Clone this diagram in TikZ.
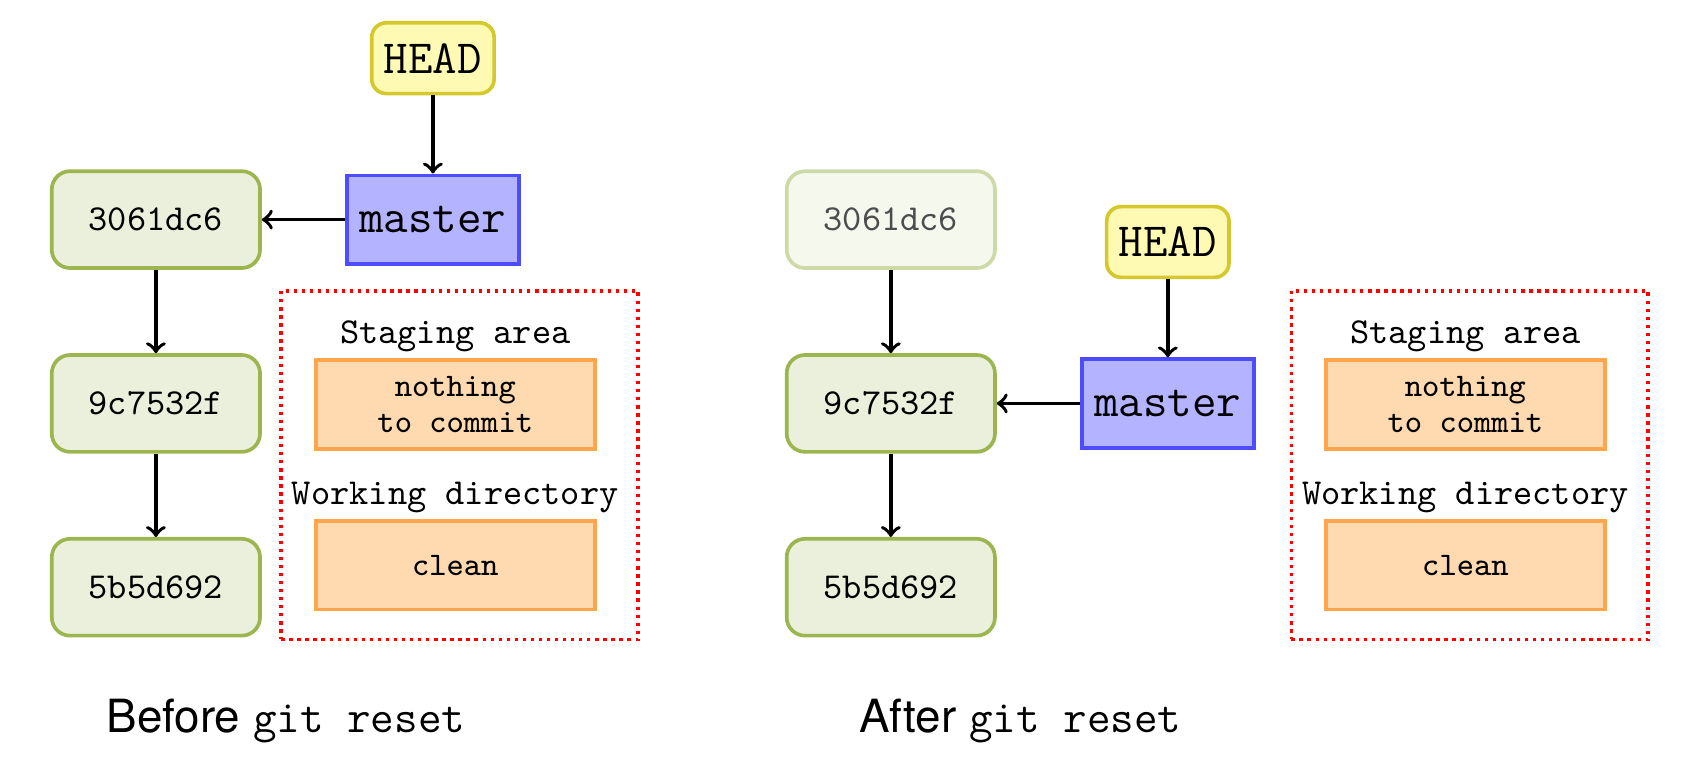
\documentclass[tikz,border=0pt]{standalone}
\usepackage{fontspec}
\setsansfont{TeX Gyre Heros}
\usetikzlibrary{positioning, fit}

\definecolor{commitfill}{HTML}{EBF0DC}
\definecolor{commitline}{HTML}{9CB54F}
\definecolor{headfill}{HTML}{FFFAB3}
\definecolor{headline}{HTML}{D4C82C}
\definecolor{branchfill}{HTML}{B3B3FF}
\definecolor{branchline}{HTML}{4D4DFF}
\definecolor{stagefill}{HTML}{FFD9B0}
\definecolor{stageline}{HTML}{FFA64D}

\newcommand{\reffont}{\fontsize{13pt}{15pt}\selectfont\ttfamily}

\tikzstyle{commit} = [rectangle, draw=commitline, fill=commitfill, line width=1pt, rounded corners=5pt, minimum width=2cm, minimum height=0.93cm, font=\ttfamily]
\tikzstyle{oldcommit} = [commit, draw=commitline!50, fill=commitfill!50, text=black!70]
\tikzstyle{branchbox} = [rectangle, draw=branchline, fill=branchfill, line width=1pt, minimum width=1.65cm, minimum height=0.85cm, font=\reffont]
\tikzstyle{headbox} = [rectangle, draw=headline, fill=headfill, line width=1pt, rounded corners=4pt, minimum height=0.68cm, font=\reffont]
\tikzstyle{stagebox} = [rectangle, draw=stageline, fill=stagefill, line width=1pt, minimum width=2.68cm, minimum height=0.85cm, font=\small\ttfamily, align=center]
\tikzstyle{arealabel} = [font=\ttfamily]
\tikzstyle{areabox} = [draw=red, line width=1pt, dash pattern=on 0.9pt off 1.3pt, inner xsep=0.6pt, inner ysep=6.2pt, xshift=1.2pt, yshift=-1.5pt]
\tikzstyle{arrow} = [line width=1pt, ->, >=to]
\tikzstyle{gitcaption} = [font=\fontsize{12.5pt}{15pt}\selectfont\sffamily]

\begin{document}
\begin{tikzpicture}[node distance=0.8cm]

  \useasboundingbox (0,0) rectangle (463.4pt,-212.6pt);

  % Before: commits and refs
  \node (bc1) [commit] at (42.6pt,-60pt) {3061dc6};
  \node (bc2) [commit, below=of bc1] {9c7532f};
  \node (bc3) [commit, below=of bc2] {5b5d692};
  \node (bmaster) [branchbox, right=of bc1] {master};
  \node (bhead) [headbox, above=0.75cm of bmaster] {HEAD};

  % Before: index and working tree
  \node (bstage) [stagebox] at (124.4pt,-110.5pt) {nothing\\[-1.3pt]to commit};
  \node (bstagelbl) [arealabel, above=-1.8pt of bstage] {Staging area};
  \node (bwork) [stagebox] at (124.4pt,-154.4pt) {clean};
  \node (bworklbl) [arealabel, above=-1.8pt of bwork] {Working directory};
  \node (barea) [areabox, fit=(bstagelbl)(bstage)(bworklbl)(bwork)] {};

  \draw[arrow] (bhead) -- (bmaster);
  \draw[arrow] (bmaster) -- (bc1);
  \draw[arrow] (bc1) -- (bc2);
  \draw[arrow] (bc2) -- (bc3);

  \node (bcaption) [gitcaption] at (78.1pt,-197pt) {Before \texttt{git reset}};

  % After: commits and refs
  \node (ac1) [oldcommit] at (243.4pt,-60pt) {3061dc6};
  \node (ac2) [commit, below=of ac1] {9c7532f};
  \node (ac3) [commit, below=of ac2] {5b5d692};
  \node (amaster) [branchbox, right=of ac2] {master};
  \node (ahead) [headbox, above=0.75cm of amaster] {HEAD};

  % After: index and working tree
  \node (astage) [stagebox] at (400.4pt,-110.5pt) {nothing\\[-1.3pt]to commit};
  \node (astagelbl) [arealabel, above=-1.8pt of astage] {Staging area};
  \node (awork) [stagebox] at (400.4pt,-154.4pt) {clean};
  \node (aworklbl) [arealabel, above=-1.8pt of awork] {Working directory};
  \node (aarea) [areabox, fit=(astagelbl)(astage)(aworklbl)(awork)] {};

  \draw[arrow] (ahead) -- (amaster);
  \draw[arrow] (amaster) -- (ac2);
  \draw[arrow] (ac1) -- (ac2);
  \draw[arrow] (ac2) -- (ac3);

  \node (acaption) [gitcaption] at (278.8pt,-197pt) {After \texttt{git reset}};

\end{tikzpicture}
\end{document}
